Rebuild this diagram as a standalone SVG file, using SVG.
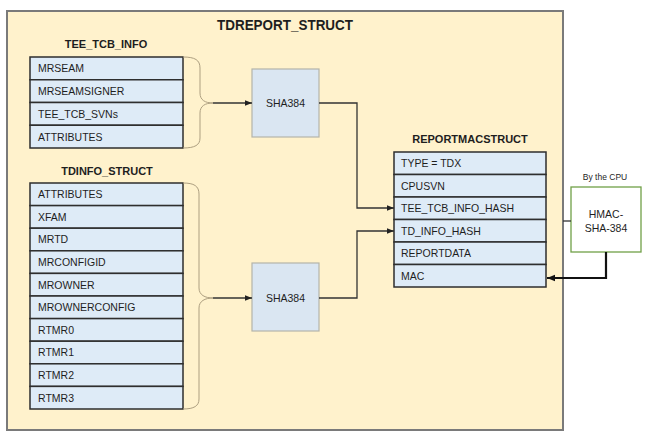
<svg xmlns="http://www.w3.org/2000/svg" width="646" height="437" viewBox="0 0 646 437">
  <defs>
    <style>
      .bg{fill:#ffffff}
      .outer{fill:#fff2cc;stroke:#7a7a7a;stroke-width:2}
      .row{fill:#deebf7;stroke:#2e2e2e;stroke-width:1.5}
      .sha{fill:#dae6f2;stroke:#b4b4aa;stroke-width:1.2}
      .hmac{fill:#ffffff;stroke:#70a048;stroke-width:1.3}
      .t{font-family:"Liberation Sans",Arial,sans-serif;font-size:10.5px;fill:#1e1e1e}
      .title{font-family:"Liberation Sans",Arial,sans-serif;font-size:11px;font-weight:bold;fill:#1e1e1e;text-anchor:middle}
      .big{font-family:"Liberation Sans",Arial,sans-serif;font-size:15px;font-weight:bold;fill:#1e1e1e;text-anchor:middle}
      .c{text-anchor:middle}
      .small{font-family:"Liberation Sans",Arial,sans-serif;font-size:8.5px;fill:#1e1e1e;text-anchor:middle}
      .brace{fill:none;stroke:#ad9f80;stroke-width:1}
      .line{fill:none;stroke:#333333;stroke-width:1.3}
      .thick{fill:none;stroke:#111111;stroke-width:2.2}
    </style>
    <marker id="arr" viewBox="0 0 10 10" refX="10" refY="5" markerWidth="7" markerHeight="7" markerUnits="userSpaceOnUse" orient="auto">
      <path d="M0,1 L10,5 L0,9 z" fill="#222222"/>
    </marker>
    <marker id="arr2" viewBox="0 0 10 10" refX="10" refY="5" markerWidth="8" markerHeight="8" markerUnits="userSpaceOnUse" orient="auto">
      <path d="M0,1 L10,5 L0,9 z" fill="#111111"/>
    </marker>
  </defs>
  <rect class="bg" x="0" y="0" width="646" height="437"/>

  <g id="tdreport_struct">
    <rect class="outer" x="7" y="11" width="556" height="419"/>
    <text class="big" x="285" y="30" textLength="136" lengthAdjust="spacingAndGlyphs">TDREPORT_STRUCT</text>
  </g>

  <g id="tee_tcb_info">
    <text class="title" x="106" y="48">TEE_TCB_INFO</text>
    <rect class="row" x="30" y="57" width="153" height="22.75"/>
    <rect class="row" x="30" y="79.75" width="153" height="22.75"/>
    <rect class="row" x="30" y="102.5" width="153" height="22.75"/>
    <rect class="row" x="30" y="125.25" width="153" height="22.75"/>
    <text class="t" x="38" y="72.2">MRSEAM</text>
    <text class="t" x="38" y="95">MRSEAMSIGNER</text>
    <text class="t" x="38" y="117.7">TEE_TCB_SVNs</text>
    <text class="t" x="38" y="140.5">ATTRIBUTES</text>
  </g>

  <g id="tdinfo_struct">
    <text class="title" x="107" y="175">TDINFO_STRUCT</text>
    <rect class="row" x="30" y="183" width="153" height="22.6"/>
    <rect class="row" x="30" y="205.6" width="153" height="22.6"/>
    <rect class="row" x="30" y="228.2" width="153" height="22.6"/>
    <rect class="row" x="30" y="250.8" width="153" height="22.6"/>
    <rect class="row" x="30" y="273.4" width="153" height="22.6"/>
    <rect class="row" x="30" y="296" width="153" height="22.6"/>
    <rect class="row" x="30" y="318.6" width="153" height="22.6"/>
    <rect class="row" x="30" y="341.2" width="153" height="22.6"/>
    <rect class="row" x="30" y="363.8" width="153" height="22.6"/>
    <rect class="row" x="30" y="386.4" width="153" height="22.6"/>
    <text class="t" x="38" y="198.1">ATTRIBUTES</text>
    <text class="t" x="38" y="220.7">XFAM</text>
    <text class="t" x="38" y="243.3">MRTD</text>
    <text class="t" x="38" y="265.9">MRCONFIGID</text>
    <text class="t" x="38" y="288.5">MROWNER</text>
    <text class="t" x="38" y="311.1">MROWNERCONFIG</text>
    <text class="t" x="38" y="333.7">RTMR0</text>
    <text class="t" x="38" y="356.3">RTMR1</text>
    <text class="t" x="38" y="378.9">RTMR2</text>
    <text class="t" x="38" y="401.5">RTMR3</text>
  </g>

  <g id="sha384_top">
    <rect class="sha" x="252" y="69" width="67" height="68"/>
    <text class="t c" x="285.5" y="107">SHA384</text>
  </g>

  <g id="sha384_bottom">
    <rect class="sha" x="252" y="263" width="67" height="68"/>
    <text class="t c" x="285.5" y="302">SHA384</text>
  </g>

  <g id="reportmacstruct">
    <text class="title" x="470" y="143">REPORTMACSTRUCT</text>
    <rect class="row" x="394" y="152" width="152" height="22.5"/>
    <rect class="row" x="394" y="174.5" width="152" height="22.5"/>
    <rect class="row" x="394" y="197" width="152" height="22.5"/>
    <rect class="row" x="394" y="219.5" width="152" height="22.5"/>
    <rect class="row" x="394" y="242" width="152" height="22.5"/>
    <rect class="row" x="394" y="264.5" width="152" height="22.5"/>
    <text class="t" x="401" y="167">TYPE = TDX</text>
    <text class="t" x="401" y="189.5">CPUSVN</text>
    <text class="t" x="401" y="212">TEE_TCB_INFO_HASH</text>
    <text class="t" x="401" y="234.5">TD_INFO_HASH</text>
    <text class="t" x="401" y="257">REPORTDATA</text>
    <text class="t" x="401" y="279.5">MAC</text>
  </g>

  <g id="hmac">
    <text class="small" x="605" y="180">By the CPU</text>
    <rect class="hmac" x="571" y="187" width="70" height="65"/>
    <text class="t c" x="606" y="218">HMAC-</text>
    <text class="t c" x="606" y="232">SHA-384</text>
  </g>

  <g id="connectors">
    <path class="brace" d="M183,57 C195,57 200,60 200,68 L200,93 C200,100 205,103 213,103 C205,103 200,106 200,113 L200,138 C200,145 195,148 183,148"/>
    <path class="brace" d="M183,183 C194,183 199,186 199,194 L199,288 C199,295 205,298 213,298 C205,298 199,301 199,308 L199,399 C199,406 194,409 183,409"/>
    <path class="line" d="M213,103 L252,103" marker-end="url(#arr)"/>
    <path class="line" d="M213,298 L252,298" marker-end="url(#arr)"/>
    <path class="line" d="M319,103 L357,103 L357,208 L394,208" marker-end="url(#arr)"/>
    <path class="line" d="M319,298 L357,298 L357,231 L394,231" marker-end="url(#arr)"/>
    <path class="line" d="M563,221 L571,221"/>
    <path class="thick" d="M606,252 L606,278 L547,278" marker-end="url(#arr2)"/>
  </g>
</svg>
